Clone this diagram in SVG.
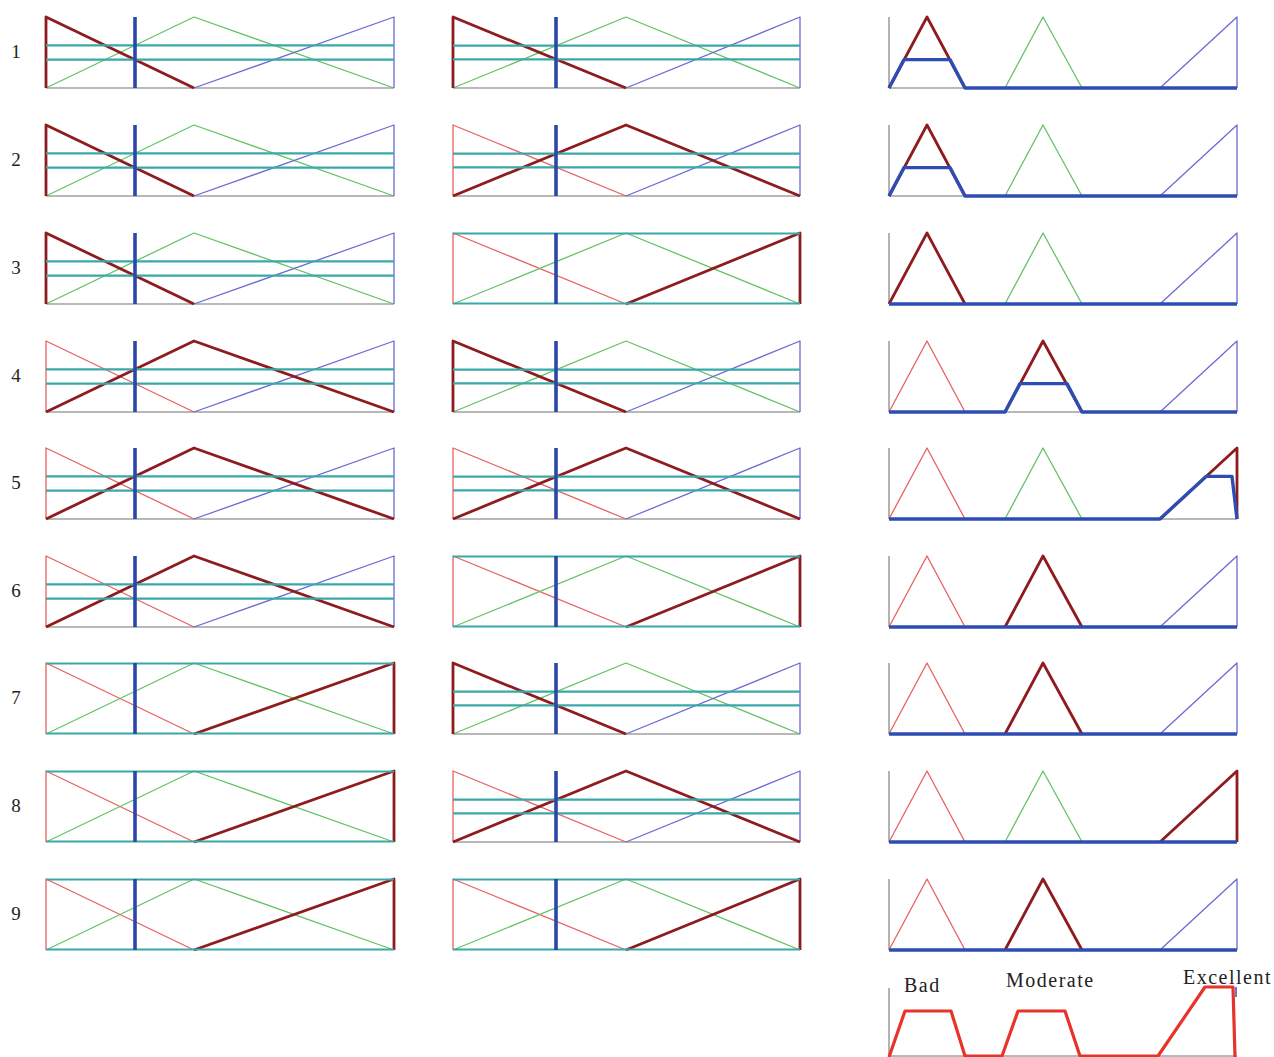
<svg xmlns="http://www.w3.org/2000/svg" width="1274" height="1057" viewBox="0 0 1274 1057">
<style>
.bg{fill:#ffffff}
path,line,polyline{fill:none;stroke-linejoin:round;stroke-linecap:butt}
.base{stroke:#a0a0a0;stroke-width:1.6}
.r{stroke:#e86060;stroke-width:1.3}
.g{stroke:#66c266;stroke-width:1.3}
.b{stroke:#6a6ad4;stroke-width:1.3}
.hl{stroke:#8e1c1e;stroke-width:2.8}
.cy{stroke:#3aa8a8;stroke-width:2.2}
.in{stroke:#2a48a8;stroke-width:3.6}
.out{stroke:#2d4db3;stroke-width:3.4}
.agg{stroke:#e8322a;stroke-width:3.2}
.num{font-family:"Liberation Serif",serif;font-size:19px;fill:#222;text-anchor:middle}
.lbl{font-family:"Liberation Serif",serif;font-size:20px;fill:#222;letter-spacing:1.5px}
</style>
<rect class="bg" x="0" y="0" width="1274" height="1057"/>

<!-- Row 1 -->
<g id="row1" transform="translate(0,17)">
<text class="num" x="16" y="41">1</text>
<g id="r1-in1">
<line class="base" x1="46" y1="71" x2="394" y2="71"/>
<path class="g" d="M46,71L194,0L394,71"/>
<path class="b" d="M194,71L394,0L394,71"/>
<path class="hl" d="M46,71L46,0L194,71"/>
<line class="cy" x1="46" y1="28.4" x2="394" y2="28.4"/>
<line class="cy" x1="46" y1="42.6" x2="394" y2="42.6"/>
<line class="in" x1="135" y1="0" x2="135" y2="71"/>
</g>
<g id="r1-in2">
<line class="base" x1="453" y1="71" x2="800" y2="71"/>
<path class="g" d="M453,71L626,0L800,71"/>
<path class="b" d="M626,71L800,0L800,71"/>
<path class="hl" d="M453,71L453,0L626,71"/>
<line class="cy" x1="453" y1="28.7" x2="800" y2="28.7"/>
<line class="cy" x1="453" y1="42.3" x2="800" y2="42.3"/>
<line class="in" x1="556" y1="0" x2="556" y2="71"/>
</g>
<g id="r1-out">
<line class="base" x1="889" y1="71" x2="1237" y2="71"/>
<line class="base" x1="889" y1="0" x2="889" y2="71"/>
<path class="g" d="M1005,71L1043,0L1082,71"/>
<path class="b" d="M1160,71L1237,0L1237,71"/>
<path class="hl" d="M889,71L927,0L965,71"/>
<polyline class="out" points="889,71 904,42.6 950,42.6 965,71 1237,71"/>
</g>
</g>

<!-- Row 2 -->
<g id="row2" transform="translate(0,125)">
<text class="num" x="16" y="41">2</text>
<g id="r2-in1">
<line class="base" x1="46" y1="71" x2="394" y2="71"/>
<path class="g" d="M46,71L194,0L394,71"/>
<path class="b" d="M194,71L394,0L394,71"/>
<path class="hl" d="M46,71L46,0L194,71"/>
<line class="cy" x1="46" y1="28.4" x2="394" y2="28.4"/>
<line class="cy" x1="46" y1="42.6" x2="394" y2="42.6"/>
<line class="in" x1="135" y1="0" x2="135" y2="71"/>
</g>
<g id="r2-in2">
<line class="base" x1="453" y1="71" x2="800" y2="71"/>
<path class="r" d="M453,71L453,0L626,71"/>
<path class="b" d="M626,71L800,0L800,71"/>
<path class="hl" d="M453,71L626,0L800,71"/>
<line class="cy" x1="453" y1="28.7" x2="800" y2="28.7"/>
<line class="cy" x1="453" y1="42.3" x2="800" y2="42.3"/>
<line class="in" x1="556" y1="0" x2="556" y2="71"/>
</g>
<g id="r2-out">
<line class="base" x1="889" y1="71" x2="1237" y2="71"/>
<line class="base" x1="889" y1="0" x2="889" y2="71"/>
<path class="g" d="M1005,71L1043,0L1082,71"/>
<path class="b" d="M1160,71L1237,0L1237,71"/>
<path class="hl" d="M889,71L927,0L965,71"/>
<polyline class="out" points="889,71 904,42.6 950,42.6 965,71 1237,71"/>
</g>
</g>

<!-- Row 3 -->
<g id="row3" transform="translate(0,233)">
<text class="num" x="16" y="41">3</text>
<g id="r3-in1">
<line class="base" x1="46" y1="71" x2="394" y2="71"/>
<path class="g" d="M46,71L194,0L394,71"/>
<path class="b" d="M194,71L394,0L394,71"/>
<path class="hl" d="M46,71L46,0L194,71"/>
<line class="cy" x1="46" y1="28.4" x2="394" y2="28.4"/>
<line class="cy" x1="46" y1="42.6" x2="394" y2="42.6"/>
<line class="in" x1="135" y1="0" x2="135" y2="71"/>
</g>
<g id="r3-in2">
<path class="r" d="M453,71L453,0L626,71"/>
<path class="g" d="M453,71L626,0L800,71"/>
<path class="hl" d="M626,71L800,0L800,71"/>
<line class="cy" x1="453" y1="0.5" x2="800" y2="0.5"/>
<line class="cy" x1="453" y1="70.5" x2="800" y2="70.5"/>
<line class="in" x1="556" y1="0" x2="556" y2="71"/>
</g>
<g id="r3-out">
<line class="base" x1="889" y1="71" x2="1237" y2="71"/>
<line class="base" x1="889" y1="0" x2="889" y2="71"/>
<path class="g" d="M1005,71L1043,0L1082,71"/>
<path class="b" d="M1160,71L1237,0L1237,71"/>
<path class="hl" d="M889,71L927,0L965,71"/>
<polyline class="out" points="889,71 1237,71"/>
</g>
</g>

<!-- Row 4 -->
<g id="row4" transform="translate(0,341)">
<text class="num" x="16" y="41">4</text>
<g id="r4-in1">
<line class="base" x1="46" y1="71" x2="394" y2="71"/>
<path class="r" d="M46,71L46,0L194,71"/>
<path class="b" d="M194,71L394,0L394,71"/>
<path class="hl" d="M46,71L194,0L394,71"/>
<line class="cy" x1="46" y1="28.4" x2="394" y2="28.4"/>
<line class="cy" x1="46" y1="42.6" x2="394" y2="42.6"/>
<line class="in" x1="135" y1="0" x2="135" y2="71"/>
</g>
<g id="r4-in2">
<line class="base" x1="453" y1="71" x2="800" y2="71"/>
<path class="g" d="M453,71L626,0L800,71"/>
<path class="b" d="M626,71L800,0L800,71"/>
<path class="hl" d="M453,71L453,0L626,71"/>
<line class="cy" x1="453" y1="28.7" x2="800" y2="28.7"/>
<line class="cy" x1="453" y1="42.3" x2="800" y2="42.3"/>
<line class="in" x1="556" y1="0" x2="556" y2="71"/>
</g>
<g id="r4-out">
<line class="base" x1="889" y1="71" x2="1237" y2="71"/>
<line class="base" x1="889" y1="0" x2="889" y2="71"/>
<path class="r" d="M889,71L927,0L965,71"/>
<path class="b" d="M1160,71L1237,0L1237,71"/>
<path class="hl" d="M1005,71L1043,0L1082,71"/>
<polyline class="out" points="889,71 1005,71 1020,42.6 1067,42.6 1082,71 1237,71"/>
</g>
</g>

<!-- Row 5 -->
<g id="row5" transform="translate(0,448)">
<text class="num" x="16" y="41">5</text>
<g id="r5-in1">
<line class="base" x1="46" y1="71" x2="394" y2="71"/>
<path class="r" d="M46,71L46,0L194,71"/>
<path class="b" d="M194,71L394,0L394,71"/>
<path class="hl" d="M46,71L194,0L394,71"/>
<line class="cy" x1="46" y1="28.4" x2="394" y2="28.4"/>
<line class="cy" x1="46" y1="42.6" x2="394" y2="42.6"/>
<line class="in" x1="135" y1="0" x2="135" y2="71"/>
</g>
<g id="r5-in2">
<line class="base" x1="453" y1="71" x2="800" y2="71"/>
<path class="r" d="M453,71L453,0L626,71"/>
<path class="b" d="M626,71L800,0L800,71"/>
<path class="hl" d="M453,71L626,0L800,71"/>
<line class="cy" x1="453" y1="28.7" x2="800" y2="28.7"/>
<line class="cy" x1="453" y1="42.3" x2="800" y2="42.3"/>
<line class="in" x1="556" y1="0" x2="556" y2="71"/>
</g>
<g id="r5-out">
<line class="base" x1="889" y1="71" x2="1237" y2="71"/>
<line class="base" x1="889" y1="0" x2="889" y2="71"/>
<path class="r" d="M889,71L927,0L965,71"/>
<path class="g" d="M1005,71L1043,0L1082,71"/>
<path class="hl" d="M1160,71L1237,0L1237,71"/>
<polyline class="out" points="889,71 1160,71 1206,28.4 1232,28.4 1237,71"/>
</g>
</g>

<!-- Row 6 -->
<g id="row6" transform="translate(0,556)">
<text class="num" x="16" y="41">6</text>
<g id="r6-in1">
<line class="base" x1="46" y1="71" x2="394" y2="71"/>
<path class="r" d="M46,71L46,0L194,71"/>
<path class="b" d="M194,71L394,0L394,71"/>
<path class="hl" d="M46,71L194,0L394,71"/>
<line class="cy" x1="46" y1="28.4" x2="394" y2="28.4"/>
<line class="cy" x1="46" y1="42.6" x2="394" y2="42.6"/>
<line class="in" x1="135" y1="0" x2="135" y2="71"/>
</g>
<g id="r6-in2">
<path class="r" d="M453,71L453,0L626,71"/>
<path class="g" d="M453,71L626,0L800,71"/>
<path class="hl" d="M626,71L800,0L800,71"/>
<line class="cy" x1="453" y1="0.5" x2="800" y2="0.5"/>
<line class="cy" x1="453" y1="70.5" x2="800" y2="70.5"/>
<line class="in" x1="556" y1="0" x2="556" y2="71"/>
</g>
<g id="r6-out">
<line class="base" x1="889" y1="71" x2="1237" y2="71"/>
<line class="base" x1="889" y1="0" x2="889" y2="71"/>
<path class="r" d="M889,71L927,0L965,71"/>
<path class="b" d="M1160,71L1237,0L1237,71"/>
<path class="hl" d="M1005,71L1043,0L1082,71"/>
<polyline class="out" points="889,71 1237,71"/>
</g>
</g>

<!-- Row 7 -->
<g id="row7" transform="translate(0,663)">
<text class="num" x="16" y="41">7</text>
<g id="r7-in1">
<path class="r" d="M46,71L46,0L194,71"/>
<path class="g" d="M46,71L194,0L394,71"/>
<path class="hl" d="M194,71L394,0L394,71"/>
<line class="cy" x1="46" y1="0.5" x2="394" y2="0.5"/>
<line class="cy" x1="46" y1="70.5" x2="394" y2="70.5"/>
<line class="in" x1="135" y1="0" x2="135" y2="71"/>
</g>
<g id="r7-in2">
<line class="base" x1="453" y1="71" x2="800" y2="71"/>
<path class="g" d="M453,71L626,0L800,71"/>
<path class="b" d="M626,71L800,0L800,71"/>
<path class="hl" d="M453,71L453,0L626,71"/>
<line class="cy" x1="453" y1="28.7" x2="800" y2="28.7"/>
<line class="cy" x1="453" y1="42.3" x2="800" y2="42.3"/>
<line class="in" x1="556" y1="0" x2="556" y2="71"/>
</g>
<g id="r7-out">
<line class="base" x1="889" y1="71" x2="1237" y2="71"/>
<line class="base" x1="889" y1="0" x2="889" y2="71"/>
<path class="r" d="M889,71L927,0L965,71"/>
<path class="b" d="M1160,71L1237,0L1237,71"/>
<path class="hl" d="M1005,71L1043,0L1082,71"/>
<polyline class="out" points="889,71 1237,71"/>
</g>
</g>

<!-- Row 8 -->
<g id="row8" transform="translate(0,771)">
<text class="num" x="16" y="41">8</text>
<g id="r8-in1">
<path class="r" d="M46,71L46,0L194,71"/>
<path class="g" d="M46,71L194,0L394,71"/>
<path class="hl" d="M194,71L394,0L394,71"/>
<line class="cy" x1="46" y1="0.5" x2="394" y2="0.5"/>
<line class="cy" x1="46" y1="70.5" x2="394" y2="70.5"/>
<line class="in" x1="135" y1="0" x2="135" y2="71"/>
</g>
<g id="r8-in2">
<line class="base" x1="453" y1="71" x2="800" y2="71"/>
<path class="r" d="M453,71L453,0L626,71"/>
<path class="b" d="M626,71L800,0L800,71"/>
<path class="hl" d="M453,71L626,0L800,71"/>
<line class="cy" x1="453" y1="28.7" x2="800" y2="28.7"/>
<line class="cy" x1="453" y1="42.3" x2="800" y2="42.3"/>
<line class="in" x1="556" y1="0" x2="556" y2="71"/>
</g>
<g id="r8-out">
<line class="base" x1="889" y1="71" x2="1237" y2="71"/>
<line class="base" x1="889" y1="0" x2="889" y2="71"/>
<path class="r" d="M889,71L927,0L965,71"/>
<path class="g" d="M1005,71L1043,0L1082,71"/>
<path class="hl" d="M1160,71L1237,0L1237,71"/>
<polyline class="out" points="889,71 1237,71"/>
</g>
</g>

<!-- Row 9 -->
<g id="row9" transform="translate(0,879)">
<text class="num" x="16" y="41">9</text>
<g id="r9-in1">
<path class="r" d="M46,71L46,0L194,71"/>
<path class="g" d="M46,71L194,0L394,71"/>
<path class="hl" d="M194,71L394,0L394,71"/>
<line class="cy" x1="46" y1="0.5" x2="394" y2="0.5"/>
<line class="cy" x1="46" y1="70.5" x2="394" y2="70.5"/>
<line class="in" x1="135" y1="0" x2="135" y2="71"/>
</g>
<g id="r9-in2">
<path class="r" d="M453,71L453,0L626,71"/>
<path class="g" d="M453,71L626,0L800,71"/>
<path class="hl" d="M626,71L800,0L800,71"/>
<line class="cy" x1="453" y1="0.5" x2="800" y2="0.5"/>
<line class="cy" x1="453" y1="70.5" x2="800" y2="70.5"/>
<line class="in" x1="556" y1="0" x2="556" y2="71"/>
</g>
<g id="r9-out">
<line class="base" x1="889" y1="71" x2="1237" y2="71"/>
<line class="base" x1="889" y1="0" x2="889" y2="71"/>
<path class="r" d="M889,71L927,0L965,71"/>
<path class="b" d="M1160,71L1237,0L1237,71"/>
<path class="hl" d="M1005,71L1043,0L1082,71"/>
<polyline class="out" points="889,71 1237,71"/>
</g>
</g>

<!-- Aggregated output -->
<g id="aggregate">
<line class="base" x1="889" y1="988" x2="889" y2="1057"/>
<line class="base" x1="889" y1="1056" x2="1237" y2="1056"/>
<polyline class="agg" points="889,1057 905,1011 951,1011 965,1056 1002,1056 1018,1011 1065,1011 1080,1056 1158,1056 1205,987 1233,987 1235,1057"/>
<line x1="1236" y1="987" x2="1236" y2="997" stroke="#3050c0" stroke-width="1.5"/>
<text class="lbl" x="904" y="992">Bad</text>
<text class="lbl" x="1006" y="987">Moderate</text>
<text class="lbl" x="1183" y="984">Excellent</text>
</g>
</svg>
